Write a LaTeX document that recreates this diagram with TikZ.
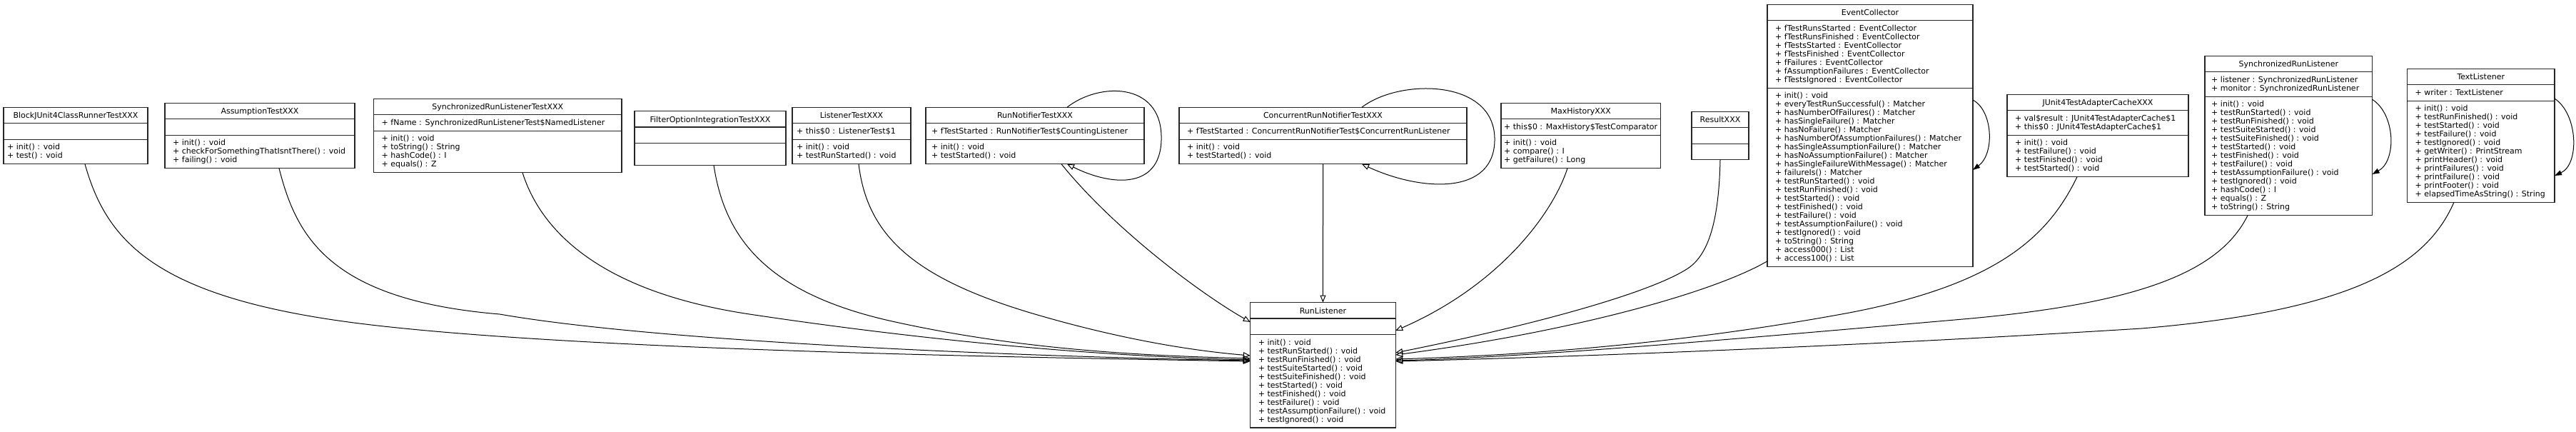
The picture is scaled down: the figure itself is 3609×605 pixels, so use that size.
\documentclass[tikz,border=0pt]{standalone}
\usepackage{fontspec}
\setmainfont{DejaVu Sans}
\usetikzlibrary{arrows.meta}
\newcommand{\Lx}[1]{\hbox{#1}}
\newcommand{\uPad}{11}
% #1 name, #2 left, #3 right, #4 centre y, #5 title, #6 attr lines, #7 attr text, #8 method lines, #9 method text
\newcommand{\uclass}[9]{%
  \pgfmathsetmacro{\uH}{12*(1+#6+#8)+31.5}%
  \pgfmathsetmacro{\uT}{#4-\uH/2}%
  \pgfmathsetmacro{\uA}{\uT+22.5}%
  \pgfmathsetmacro{\uM}{\uA+12*#6+10.5}%
  \pgfmathsetmacro{\uW}{#3-#2}%
  \pgfmathsetmacro{\uC}{(#2+#3)/2}%
  \node[classbox, minimum width=\uW pt, minimum height=\uH pt] (#1) at (\uC,#4) {};
  \draw[sepline] (#2,\uA) -- (#3,\uA);
  \draw[sepline] (#2,\uM) -- (#3,\uM);
  \node[anchor=base, inner sep=0pt] (#1-t) at (\uC,\uT+15.5) {#5};
  \node[anchor=base west, inner sep=0pt] (#1-a) at (#2+\uPad,\uA+14.5) {\vtop{#7}};
  \node[anchor=base west, inner sep=0pt] (#1-m) at (#2+\uPad,\uM+14.5) {\vtop{#9}};
}
\begin{document}
\begin{tikzpicture}[x=1pt,y=-1pt,font=\fontsize{11}{12}\selectfont,
  classbox/.style={draw=black!85, line width=1.3pt, inner sep=0pt, outer sep=0pt},
  sepline/.style={draw=black!85, line width=1.3pt},
  inh/.style={line width=1pt, -{Triangle[open, length=10pt, width=8pt]}},
  selfref/.style={line width=1pt, -{Triangle[length=10pt, width=7pt]}}]
\fill[white] (0,0) rectangle (3609,605);
\useasboundingbox (0,0) rectangle (3609,605);

\renewcommand{\uPad}{5}
\uclass{Block}{5}{207}{190}{BlockJUnit4ClassRunnerTestXXX}{1}{}{2}{\Lx{+ init() : void}\Lx{+ test() : void}}
\renewcommand{\uPad}{11}
\uclass{Assum}{231}{497}{190}{AssumptionTestXXX}{1}{}{3}{\Lx{+ init() : void}\Lx{+ checkForSomethingThatIsntThere() : void}\Lx{+ failing() : void}}
\uclass{SRLT}{523.5}{871}{190}{SynchronizedRunListenerTestXXX}{1}{\Lx{+ fName : SynchronizedRunListenerTest\$NamedListener}}{4}{\Lx{+ init() : void}\Lx{+ toString() : String}\Lx{+ hashCode() : I}\Lx{+ equals() : Z}}
\uclass{Filter}{889}{1101}{193.5}{FilterOptionIntegrationTestXXX}{1}{}{1.7}{}
\renewcommand{\uPad}{6}
\uclass{LT}{1110}{1276}{190}{ListenerTestXXX}{1}{\Lx{+ this\$0 : ListenerTest\$1}}{2}{\Lx{+ init() : void}\Lx{+ testRunStarted() : void}}
\renewcommand{\uPad}{8}
\uclass{RNT}{1297}{1603}{190}{RunNotifierTestXXX}{1}{\Lx{+ fTestStarted : RunNotifierTest\$CountingListener}}{2}{\Lx{+ init() : void}\Lx{+ testStarted() : void}}
\renewcommand{\uPad}{11}
\uclass{CRNT}{1652}{2055}{190}{ConcurrentRunNotifierTestXXX}{1}{\Lx{+ fTestStarted : ConcurrentRunNotifierTest\$ConcurrentRunListener}}{2}{\Lx{+ init() : void}\Lx{+ testStarted() : void}}
\renewcommand{\uPad}{4}
\uclass{MH}{2103}{2326.5}{190}{MaxHistoryXXX}{1}{\Lx{+ this\$0 : MaxHistory\$TestComparator}}{3}{\Lx{+ init() : void}\Lx{+ compare() : I}\Lx{+ getFailure() : Long}}
\renewcommand{\uPad}{11}
\uclass{Res}{2370}{2450}{190}{ResultXXX}{1}{}{1}{}
\uclass{EC}{2476}{2764}{190}{EventCollector}{7}{%
\Lx{+ fTestRunsStarted : EventCollector}%
\Lx{+ fTestRunsFinished : EventCollector}%
\Lx{+ fTestsStarted : EventCollector}%
\Lx{+ fTestsFinished : EventCollector}%
\Lx{+ fFailures : EventCollector}%
\Lx{+ fAssumptionFailures : EventCollector}%
\Lx{+ fTestsIgnored : EventCollector}}{20}{%
\Lx{+ init() : void}%
\Lx{+ everyTestRunSuccessful() : Matcher}%
\Lx{+ hasNumberOfFailures() : Matcher}%
\Lx{+ hasSingleFailure() : Matcher}%
\Lx{+ hasNoFailure() : Matcher}%
\Lx{+ hasNumberOfAssumptionFailures() : Matcher}%
\Lx{+ hasSingleAssumptionFailure() : Matcher}%
\Lx{+ hasNoAssumptionFailure() : Matcher}%
\Lx{+ hasSingleFailureWithMessage() : Matcher}%
\Lx{+ failureIs() : Matcher}%
\Lx{+ testRunStarted() : void}%
\Lx{+ testRunFinished() : void}%
\Lx{+ testStarted() : void}%
\Lx{+ testFinished() : void}%
\Lx{+ testFailure() : void}%
\Lx{+ testAssumptionFailure() : void}%
\Lx{+ testIgnored() : void}%
\Lx{+ toString() : String}%
\Lx{+ access000() : List}%
\Lx{+ access100() : List}}
\uclass{JC}{2812}{3066}{190}{JUnit4TestAdapterCacheXXX}{2}{%
\Lx{+ val\$result : JUnit4TestAdapterCache\$1}%
\Lx{+ this\$0 : JUnit4TestAdapterCache\$1}}{4}{%
\Lx{+ init() : void}%
\Lx{+ testFailure() : void}%
\Lx{+ testFinished() : void}%
\Lx{+ testStarted() : void}}
\renewcommand{\uPad}{9}
\uclass{SRL}{3089}{3323.6}{190}{SynchronizedRunListener}{2}{%
\Lx{+ listener : SynchronizedRunListener}%
\Lx{+ monitor : SynchronizedRunListener}}{13}{%
\Lx{+ init() : void}%
\Lx{+ testRunStarted() : void}%
\Lx{+ testRunFinished() : void}%
\Lx{+ testSuiteStarted() : void}%
\Lx{+ testSuiteFinished() : void}%
\Lx{+ testStarted() : void}%
\Lx{+ testFinished() : void}%
\Lx{+ testFailure() : void}%
\Lx{+ testAssumptionFailure() : void}%
\Lx{+ testIgnored() : void}%
\Lx{+ hashCode() : I}%
\Lx{+ equals() : Z}%
\Lx{+ toString() : String}}
\renewcommand{\uPad}{11}
\uclass{TL}{3372.5}{3579}{190}{TextListener}{1}{\Lx{+ writer : TextListener}}{11}{%
\Lx{+ init() : void}%
\Lx{+ testRunFinished() : void}%
\Lx{+ testStarted() : void}%
\Lx{+ testFailure() : void}%
\Lx{+ testIgnored() : void}%
\Lx{+ getWriter() : PrintStream}%
\Lx{+ printHeader() : void}%
\Lx{+ printFailures() : void}%
\Lx{+ printFailure() : void}%
\Lx{+ printFooter() : void}%
\Lx{+ elapsedTimeAsString() : String}}
\uclass{RL}{1751.7}{1955.2}{511.3}{RunListener}{1}{}{10}{%
\Lx{+ init() : void}%
\Lx{+ testRunStarted() : void}%
\Lx{+ testRunFinished() : void}%
\Lx{+ testSuiteStarted() : void}%
\Lx{+ testSuiteFinished() : void}%
\Lx{+ testStarted() : void}%
\Lx{+ testFinished() : void}%
\Lx{+ testFailure() : void}%
\Lx{+ testAssumptionFailure() : void}%
\Lx{+ testIgnored() : void}}

% inheritance edges, left side
\draw[inh] ([xshift=13pt]Block.south) .. controls (150,340) and (220,420) .. (520,455) .. controls (820,490) and (1400,500) .. ([yshift=5.3pt]RL.west);
\draw[inh] ([xshift=27pt]Assum.south) .. controls (415,330) and (460,420) .. (700,440) .. controls (930,480) and (1450,500) .. ([yshift=6.3pt]RL.west);
\draw[inh] ([xshift=34.75pt]SRLT.south) .. controls (760,330) and (850,410) .. (1050,440) .. controls (1250,470) and (1500,498) .. ([yshift=7.3pt]RL.west);
\draw[inh] ([xshift=5pt]Filter.south) .. controls (1015,330) and (1070,410) .. (1250,450) .. controls (1430,490) and (1600,498) .. ([yshift=9.3pt]RL.west);
\draw[inh] ([xshift=10pt]LT.south) .. controls (1215,330) and (1280,390) .. (1450,440) .. controls (1580,478) and (1680,492) .. ([yshift=13.3pt]RL.west);
\draw[inh] ([xshift=37pt]RNT.south) .. controls (1560,320) and (1680,410) .. ([yshift=60.3pt]RL.west);
% self loops with open heads
\draw[inh] ([xshift=45pt]RNT.north) .. controls (1540,115) and (1625,115) .. (1627,190) .. controls (1629,265) and (1560,262) .. ([xshift=45pt]RNT.south);
\draw[inh] ([xshift=54.5pt]CRNT.north) .. controls (1960,110) and (2092,110) .. (2094,193) .. controls (2096,275) and (1990,268) .. ([xshift=54.5pt]CRNT.south);
% straight down
\draw[inh] (CRNT.south) -- (RL.north);
% right side
\draw[inh] ([xshift=-18.75pt]MH.south) .. controls (2175,300) and (2100,400) .. ([yshift=48.3pt]RL.east);
\draw[inh] (Res.south) .. controls (2408,320) and (2390,360) .. (2363,377) .. controls (2309,411) and (2150,455) .. ([yshift=17.3pt]RL.east);
\draw[inh] ([yshift=8pt]EC.south west) .. controls (2400,410) and (2200,465) .. ([yshift=14.3pt]RL.east);
\draw[inh] ([xshift=-29pt]JC.south) .. controls (2870,330) and (2800,400) .. (2580,440) .. controls (2360,480) and (2150,497) .. ([yshift=8.3pt]RL.east);
\draw[inh] ([xshift=-57.3pt]SRL.south) .. controls (3110,380) and (3000,425) .. (2750,447) .. controls (2450,473) and (2150,500) .. ([yshift=6.3pt]RL.east);
\draw[inh] ([xshift=-38pt]TL.south) .. controls (3400,370) and (3300,435) .. (3000,460) .. controls (2600,485) and (2200,500) .. ([yshift=5.3pt]RL.east);
% self loops with filled heads
\draw[selfref] ([yshift=50pt]EC.east) .. controls (2792,155) and (2795,215) .. ([yshift=-48pt]EC.east);
\draw[selfref] ([yshift=50.7pt]SRL.east) .. controls (3356,160) and (3358,225) .. ([yshift=-54pt]SRL.east);
\draw[selfref] ([yshift=52pt]TL.east) .. controls (3612,160) and (3614,230) .. ([yshift=-56pt]TL.east);
\end{tikzpicture}
\end{document}
